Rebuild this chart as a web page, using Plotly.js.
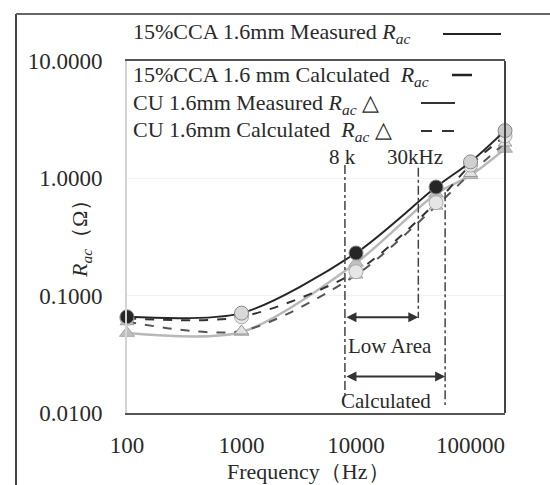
<!DOCTYPE html>
<html><head><meta charset="utf-8">
<script src="https://cdn.plot.ly/plotly-3.0.1.min.js"></script>
<style>html,body{margin:0;padding:0;background:#fff}#chart{width:550px;height:485px}</style>
</head><body><div id="chart"></div>
<script>
// ---- data ----
const freq = [100, 1000, 10000, 50000, 100000, 200000];
const ccaMeasured = [0.066, 0.071, 0.231, 0.843, 1.38, 2.55];
const ccaCalculated = [0.064, 0.066, 0.160, 0.620, 1.30, 2.30];
const cuMeasured = [0.048, 0.049, 0.190, 0.740, 1.06, 1.78];
const cuCalculated = [0.060, 0.050, 0.150, 0.580, 1.10, 2.00];
const xTickVals = [100, 1000, 10000, 100000];
const xTickText = ['100', '1000', '10000', '100000'];
const yTickVals = [0.01, 0.1, 1, 10];
const yTickText = ['0.0100', '0.1000', '1.0000', '10.0000'];
const markFreqs = [8000, 35000, 60000];
const markTop = [1.30, 1.23, 0.76];
const markBottom = [0.0142, 0.0645, 0.0117];
const legendLabels = [
  '15%CCA 1.6mm Measured <i>R<sub>ac</sub></i>',
  '15%CCA 1.6 mm Calculated  <i>R<sub>ac</sub></i>',
  'CU 1.6mm Measured <i>R<sub>ac</sub></i> △',
  'CU 1.6mm Calculated  <i>R<sub>ac</sub></i> △'
];

// ---- layout helpers ----
const W = 550, H = 485, L = 127, R = 45, T = 61, B = 72;
const PW = W - L - R, PH = H - T - B;
const px = p => (p - L) / PW;
const py = p => (H - B - p) / PH;
const FONT = 'Liberation Serif, Times New Roman, serif';
const TXT = '#2a2a2a';

const traces = [];
traces.push({x: freq, y: cuMeasured, mode: 'lines+markers', line: {color: '#b8b8b8', width: 2.5, shape: 'spline', smoothing: 0.8},
  marker: {symbol: 'triangle-up', size: 13, color: '#c0c0c0', line: {color: '#a8a8a8', width: 1}}, cliponaxis: false});
traces.push({x: freq, y: cuCalculated, mode: 'lines+markers', line: {color: '#555', width: 2, dash: 'dash', shape: 'spline', smoothing: 0.8},
  marker: {symbol: 'triangle-up', size: 12, color: '#e2e2e2', line: {color: '#999', width: 1}}, cliponaxis: false});
traces.push({x: freq, y: ccaCalculated, mode: 'lines+markers', line: {color: '#333', width: 2, dash: 'dash', shape: 'spline', smoothing: 0.8},
  marker: {symbol: 'circle', size: 14, color: '#e6e6e6', line: {color: '#aaa', width: 1}}, cliponaxis: false});
traces.push({x: freq, y: ccaMeasured, mode: 'lines+markers', line: {color: '#262626', width: 2, shape: 'spline', smoothing: 0.8},
  marker: {symbol: 'circle', size: 14, color: ['#262626', '#d8d8d8', '#262626', '#262626', '#d0d0d0', '#c8c8c8'], line: {color: '#888', width: 1}}, cliponaxis: false});
markFreqs.forEach((f, i) => {
  traces.push({x: [f, f], y: [markTop[i], markBottom[i]], mode: 'lines', line: {color: '#444', width: 1.5, dash: 'dashdot'}, hoverinfo: 'skip'});
});

const shapes = [
  // outer frame
  {type: 'line', xref: 'paper', yref: 'paper', x0: px(16), x1: px(16), y0: py(14), y1: py(490), line: {color: '#444', width: 2}},
  {type: 'line', xref: 'paper', yref: 'paper', x0: px(16), x1: px(560), y0: py(14), y1: py(14), line: {color: '#666', width: 2}},
  // right border of plot
  {type: 'line', xref: 'paper', yref: 'paper', x0: 1, x1: 1, y0: 0, y1: 1, line: {color: '#444', width: 2}},
  // legend samples
  {type: 'line', xref: 'paper', yref: 'paper', x0: px(443), x1: px(501), y0: py(34), y1: py(34), line: {color: '#222', width: 2}},
  {type: 'line', xref: 'paper', yref: 'paper', x0: px(452), x1: px(472), y0: py(75), y1: py(75), line: {color: '#222', width: 2.5}},
  {type: 'line', xref: 'paper', yref: 'paper', x0: px(421), x1: px(455), y0: py(103), y1: py(103), line: {color: '#333', width: 2}},
  {type: 'line', xref: 'paper', yref: 'paper', x0: px(421), x1: px(432), y0: py(131), y1: py(131), line: {color: '#333', width: 2}},
  {type: 'line', xref: 'paper', yref: 'paper', x0: px(442), x1: px(454), y0: py(131), y1: py(131), line: {color: '#333', width: 2}}
];

const legendY = [33, 76, 104, 131];
const annotations = legendLabels.map((t, i) => ({
  xref: 'paper', yref: 'paper', x: px(131), y: py(legendY[i]), xanchor: 'left', yanchor: 'middle',
  text: t, showarrow: false, font: {family: FONT, size: 22, color: TXT}
}));
const label = (x, y, t, extra) => Object.assign({xref: 'paper', yref: 'paper', x: px(x), y: py(y), text: t, showarrow: false,
  xanchor: 'center', yanchor: 'middle', font: {family: FONT, size: 21, color: TXT}}, extra || {});
annotations.push(
  label(308, 471, 'Frequency（Hz）', {font: {family: FONT, size: 22, color: TXT}}),
  label(81, 234, '<i>R<sub>ac</sub></i>（Ω）', {textangle: -90, font: {family: FONT, size: 22, color: TXT}}),
  label(342, 157, '8 k'),
  label(415, 157, '30kHz'),
  label(390, 346, 'Low Area'),
  label(386, 401, 'Calculated'),
  {xref: 'x', yref: 'y', axref: 'x', ayref: 'y', x: Math.log10(markFreqs[1]), y: Math.log10(0.0655), ax: Math.log10(markFreqs[0]), ay: Math.log10(0.0655),
    text: '', showarrow: true, arrowside: 'end+start', arrowhead: 2, arrowsize: 1, arrowwidth: 2, arrowcolor: '#333', standoff: 0, startstandoff: 0},
  {xref: 'x', yref: 'y', axref: 'x', ayref: 'y', x: Math.log10(markFreqs[2]), y: Math.log10(0.0205), ax: Math.log10(markFreqs[0]), ay: Math.log10(0.0205),
    text: '', showarrow: true, arrowside: 'end+start', arrowhead: 2, arrowsize: 1, arrowwidth: 2, arrowcolor: '#333', standoff: 0, startstandoff: 0}
);

const layout = {
  width: W, height: H,
  margin: {l: L, r: R, t: T, b: B},
  paper_bgcolor: '#fff', plot_bgcolor: '#fff',
  showlegend: false,
  xaxis: {type: 'log', range: [2, Math.log10(200000)], tickvals: xTickVals, ticktext: xTickText,
    showgrid: false, zeroline: false, showline: true, linecolor: '#555', linewidth: 2, mirror: true,
    ticks: '', ticklabelstandoff: 10, tickfont: {family: FONT, size: 23, color: TXT}},
  yaxis: {type: 'log', range: [-2, 1], tickvals: yTickVals, ticktext: yTickText,
    showgrid: true, gridcolor: '#f0f0f0', gridwidth: 1.5, zeroline: false, showline: true, linecolor: '#d4d4d4', linewidth: 2,
    ticks: '', ticklabelstandoff: 18, tickfont: {family: FONT, size: 23, color: TXT}},
  shapes: shapes,
  annotations: annotations
};

Plotly.newPlot('chart', traces, layout, {staticPlot: true, displayModeBar: false});
</script>
</body></html>
